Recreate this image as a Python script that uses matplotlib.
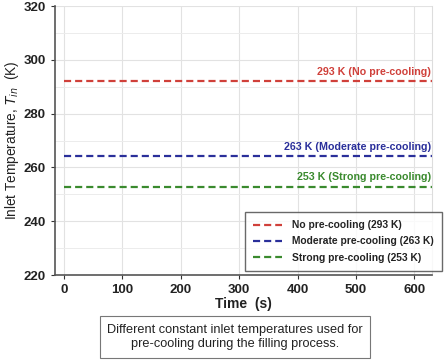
import matplotlib
matplotlib.use("Agg")
import matplotlib.pyplot as plt
import numpy as np

plt.rcParams['font.family'] = ['Liberation Sans', 'DejaVu Sans']

time_range = [0, 630]
temps = [292, 264.3, 252.8]
labels = ["No pre-cooling (293 K)", "Moderate pre-cooling (263 K)", "Strong pre-cooling (253 K)"]
annots = ["293 K (No pre-cooling)", "263 K (Moderate pre-cooling)", "253 K (Strong pre-cooling)"]
colors = ["#d0403a", "#2a2f9a", "#3a8a2e"]
xticks = [0, 100, 200, 300, 400, 500, 600]
yticks = [220, 240, 260, 280, 300, 320]

fig = plt.figure(figsize=(4.46, 3.6), dpi=100)
ax = fig.add_axes([55/446, 1-275/360, (432-55)/446, (275-6)/360])

for t, lab, c in zip(temps, labels, colors):
    ax.plot(time_range, [t, t], linestyle=(0, (3.2, 1.8)), color=c, lw=1.6, label=lab)

for t, a, c in zip(temps, annots, colors):
    ax.text(628, t + 1.6, a, color=c, ha='right', va='bottom', fontsize=7.7, fontweight='bold')

ax.set_xlim(-15, 630)
ax.set_ylim(220, 320)
ax.set_xticks(xticks)
ax.set_yticks(yticks)
ax.set_yticks([230, 250, 270, 290, 310], minor=True)
ax.grid(True, which='major', color='#e2e2e2', lw=0.8)
ax.grid(True, which='minor', axis='y', color='#ececec', lw=0.7)
ax.tick_params(axis='y', which='minor', length=0)
ax.tick_params(axis='both', which='major', labelsize=9.5, colors='#333333', length=3)
for lbl in ax.get_xticklabels() + ax.get_yticklabels():
    lbl.set_fontweight('bold')
    lbl.set_color('#222222')
ax.spines['top'].set_visible(False)
ax.spines['right'].set_color('#dddddd')
ax.spines['right'].set_linewidth(0.8)
for s in ['left', 'bottom']:
    ax.spines[s].set_color('#555555')
    ax.spines[s].set_linewidth(1.2)

ax.set_xlabel("Time  (s)", fontsize=10, fontweight='bold', color='#222222', labelpad=1)
ax.set_ylabel("Inlet Temperature, $T_{in}$  (K)", fontsize=9.8, color='#222222', labelpad=2)

leg = ax.legend(loc='upper left', bbox_to_anchor=(245/446, 1-212/360), bbox_transform=fig.transFigure,
                borderaxespad=0, fontsize=7.4, frameon=True, fancybox=False, handlelength=2.8,
                handletextpad=1.0, borderpad=0.8, labelspacing=0.6)
leg.get_frame().set_edgecolor('#444444')
leg.get_frame().set_linewidth(1.0)
for txt in leg.get_texts():
    txt.set_fontweight('bold')
    txt.set_color('#222222')

fig.text(235/446, 1-337/360, "Different constant inlet temperatures used for\npre-cooling during the filling process.",
         ha='center', va='center', fontsize=9.2, color='#222222', linespacing=1.25,
         bbox=dict(boxstyle='square,pad=0.6', fc='white', ec='#777777', lw=0.8))

fig.savefig("out.png", dpi=100)
